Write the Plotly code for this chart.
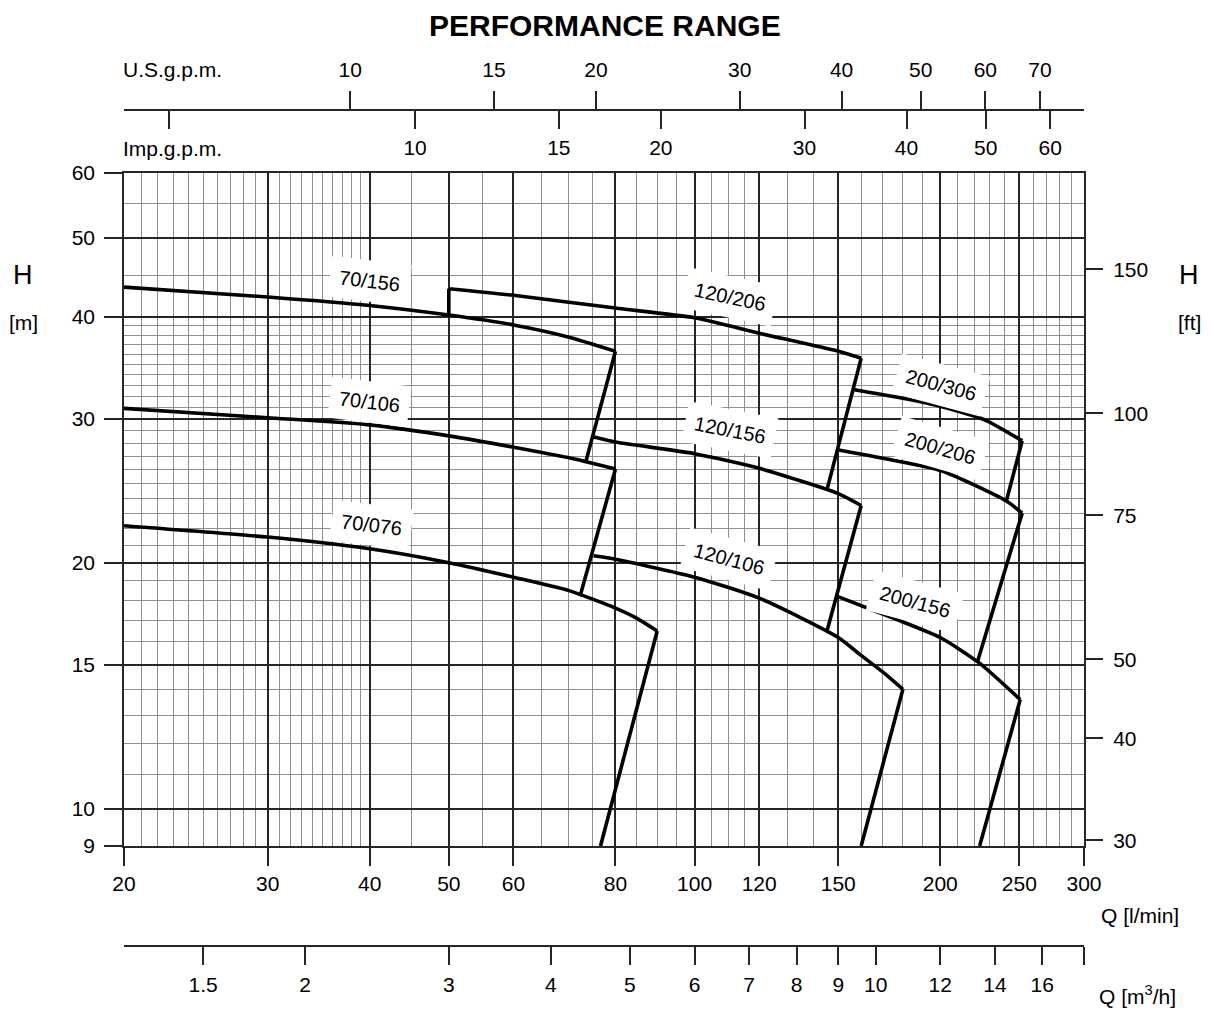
import numpy as np
import plotly.graph_objects as go

# ---------------- data (Q in l/min, H in m) ----------------
q_70_156 = [20, 30, 40, 50, 60, 70, 80, 73.6]
h_70_156 = [43.5, 42.3, 41.3, 40.2, 39.1, 37.8, 36.3, 26.6]

q_70_106 = [20, 30, 40, 50, 60, 70, 80, 72.4]
h_70_106 = [30.9, 30.1, 29.5, 28.6, 27.7, 26.9, 26.05, 18.2]

q_70_076 = [20, 30, 40, 50, 60, 70, 80, 85, 90, 76.7]
h_70_076 = [22.2, 21.5, 20.8, 20.0, 19.2, 18.5, 17.6, 17.1, 16.5, 9]

q_120_206 = [50, 50, 60, 80, 100, 120, 150, 160, 145.5]
h_120_206 = [40.2, 43.3, 42.5, 41.0, 39.9, 38.2, 36.3, 35.6, 24.7]

q_120_156 = [75.3, 80, 100, 120, 150, 160, 145.3]
h_120_156 = [28.5, 28.1, 27.2, 26.1, 24.3, 23.5, 16.5]

q_120_106 = [75.2, 80, 100, 120, 150, 160, 170, 180, 160]
h_120_106 = [20.4, 20.2, 19.2, 18.1, 16.2, 15.4, 14.7, 14.0, 9]

q_200_306 = [156.5, 180, 201, 227, 252, 241]
h_200_306 = [32.6, 31.8, 31.05, 29.9, 28.2, 23.8]

q_200_206 = [149.6, 175, 201, 241, 252, 222]
h_200_206 = [27.5, 26.7, 25.9, 23.8, 23.0, 15.1]

q_200_156 = [149.3, 175.4, 200, 222.8, 250.6, 223.5]
h_200_156 = [18.2, 17.1, 16.2, 15.1, 13.6, 9]

curve_names = ["70/156", "70/106", "70/076", "120/206", "120/156", "120/106",
               "200/306", "200/206", "200/156"]
curve_q = [q_70_156, q_70_106, q_70_076, q_120_206, q_120_156, q_120_106,
           q_200_306, q_200_206, q_200_156]
curve_h = [h_70_156, h_70_106, h_70_076, h_120_206, h_120_156, h_120_106,
           h_200_306, h_200_206, h_200_156]
# index where the smooth H-Q curve starts (120/206 begins with a vertical step)
curve_start = [0, 0, 0, 1, 0, 0, 0, 0, 0]

# label anchor points (Q, H) and slant
label_q = [40.0, 40.0, 40.2, 110.5, 110.5, 110.1, 200.4, 199.6, 186.4]
label_h = [44.2, 31.5, 22.25, 42.3, 29.1, 20.2, 33.0, 27.6, 17.9]
label_angle = [7, 7, 7, 12, 11, 15, 15, 16, 15]

# ticks
q_major = [20, 30, 40, 50, 60, 80, 100, 120, 150, 200, 250, 300]
q_minor = list(range(21, 30)) + list(range(31, 40)) + [45, 55, 65, 70, 75, 85, 90, 95,
           105, 110, 115, 130, 140, 160, 170, 180, 190, 210, 220, 230, 240,
           260, 270, 280, 290]
h_major = [9, 10, 15, 20, 30, 40, 50, 60]
h_minor = [11, 12, 13, 14, 16, 17, 18, 19] + list(range(21, 30)) + list(range(31, 40)) + [45, 55]
ft_ticks = [30, 40, 50, 75, 100, 150]
usgpm_ticks = [10, 15, 20, 30, 40, 50, 60, 70]
impgpm_ticks = [10, 15, 20, 30, 40, 50, 60]
impgpm_extra = [5]
m3h_ticks = [1.5, 2, 3, 4, 5, 6, 7, 8, 9, 10, 12, 14, 16]
m3h_extra = [18]

Q_RANGE = (20, 300)
H_RANGE = (9, 60)
US_GAL = 3.78541
IMP_GAL = 4.54609
FT = 3.28084

# ---------------- layout geometry ----------------
# the page places the figure 8 px from the top-left corner of the window
OFF = 8
W, HGT = 1212 - OFF, 1011 - OFF


def fx(px):
    return (px - OFF) / W


def fy(py):
    return 1 - (py - OFF) / HGT


X0, X1 = 124, 1084
Y0, Y1 = 173, 846
xdom = [fx(X0), fx(X1)]
ydom = [fy(Y1), fy(Y0)]

FONT = "Liberation Sans, Arial, sans-serif"
TFS = 21
LFS = 20
MAJ = "#262626"
MIN = "#8f8f8f"
LW = 3.6

fig = go.Figure()
for name, q, h, s in zip(curve_names, curve_q, curve_h, curve_start):
    # smooth characteristic curve
    fig.add_trace(go.Scatter(x=q[s:-1], y=h[s:-1], mode="lines", name=name,
                             line=dict(color="black", width=LW, shape="spline", smoothing=0.6),
                             hoverinfo="skip", showlegend=False))
    # straight limit line at the end of the curve
    fig.add_trace(go.Scatter(x=q[-2:], y=h[-2:], mode="lines", name=name,
                             line=dict(color="black", width=LW),
                             hoverinfo="skip", showlegend=False))
    if s > 0:
        fig.add_trace(go.Scatter(x=q[:s + 1], y=h[:s + 1], mode="lines", name=name,
                                 line=dict(color="black", width=LW),
                                 hoverinfo="skip", showlegend=False))

# empty traces so the secondary axes exist
fig.add_trace(go.Scatter(x=[], y=[], xaxis="x2", yaxis="y", showlegend=False))
fig.add_trace(go.Scatter(x=[], y=[], xaxis="x3", yaxis="y", showlegend=False))
fig.add_trace(go.Scatter(x=[], y=[], xaxis="x4", yaxis="y", showlegend=False))
fig.add_trace(go.Scatter(x=[], y=[], xaxis="x", yaxis="y2", showlegend=False))

tickfont = dict(family=FONT, size=TFS, color="black")
tk = dict(ticks="outside", ticklen=18, tickwidth=1.6, tickcolor=MAJ, automargin=False,
          zeroline=False, tickfont=tickfont, tickmode="array", type="log")

fig.update_layout(
    width=W, height=HGT, autosize=False,
    margin=dict(l=0, r=0, t=0, b=0, pad=0, autoexpand=False),
    paper_bgcolor="white", plot_bgcolor="white",
    font=dict(family=FONT, color="black"),
    xaxis=dict(domain=xdom, range=[np.log10(Q_RANGE[0]), np.log10(Q_RANGE[1])],
               tickvals=q_major, ticktext=[str(v) for v in q_major],
               showgrid=True, gridcolor=MAJ, gridwidth=1.6,
               minor=dict(tickmode="array", tickvals=q_minor, showgrid=True,
                          gridcolor=MIN, gridwidth=1, ticks=""),
               showline=True, linecolor=MAJ, linewidth=1.6, mirror=True,
               ticklabelstandoff=0, anchor="y", **tk),
    yaxis=dict(domain=ydom, range=[np.log10(H_RANGE[0]), np.log10(H_RANGE[1])],
               tickvals=h_major, ticktext=[str(v) for v in h_major],
               showgrid=True, gridcolor=MAJ, gridwidth=1.6,
               minor=dict(tickmode="array", tickvals=h_minor, showgrid=True,
                          gridcolor=MIN, gridwidth=1, ticks=""),
               showline=True, linecolor=MAJ, linewidth=1.6, mirror=True,
               ticklabelstandoff=5, anchor="x", **tk),
    yaxis2=dict(overlaying="y", side="right", anchor="x", domain=ydom,
                range=[np.log10(H_RANGE[0] * FT), np.log10(H_RANGE[1] * FT)],
                tickvals=ft_ticks, ticktext=[str(v) for v in ft_ticks],
                showgrid=False, showline=False, ticklabelstandoff=6, **tk),
    xaxis2=dict(overlaying="x", anchor="free", position=fy(110),
                side="top", domain=xdom,
                range=[np.log10(Q_RANGE[0] / US_GAL), np.log10(Q_RANGE[1] / US_GAL)],
                tickvals=usgpm_ticks, ticktext=[str(v) for v in usgpm_ticks],
                showgrid=False, showline=True, linecolor=MAJ, linewidth=1.6,
                ticklabelstandoff=6, **tk),
    xaxis3=dict(overlaying="x", anchor="free", position=fy(110),
                side="bottom", domain=xdom,
                range=[np.log10(Q_RANGE[0] / IMP_GAL), np.log10(Q_RANGE[1] / IMP_GAL)],
                tickvals=impgpm_ticks, ticktext=[str(v) for v in impgpm_ticks],
                minor=dict(tickmode="array", tickvals=impgpm_extra, ticks="outside",
                           ticklen=18, tickwidth=1.6, tickcolor=MAJ, showgrid=False),
                showgrid=False, showline=False, ticklabelstandoff=1, **tk),
    xaxis4=dict(overlaying="x", anchor="free", position=fy(946),
                side="bottom", domain=xdom,
                range=[np.log10(Q_RANGE[0] * 0.06), np.log10(Q_RANGE[1] * 0.06)],
                tickvals=m3h_ticks, ticktext=[str(v) for v in m3h_ticks],
                minor=dict(tickmode="array", tickvals=m3h_extra, ticks="outside",
                           ticklen=18, tickwidth=1.6, tickcolor=MAJ, showgrid=False),
                showgrid=False, showline=True, linecolor=MAJ, linewidth=1.6,
                ticklabelstandoff=2, **tk),
)

anns = []
for name, q, h, a in zip(curve_names, label_q, label_h, label_angle):
    anns.append(dict(x=np.log10(q), y=np.log10(h), xref="x", yref="y", text=name,
                     showarrow=False, textangle=a, bgcolor="white", borderpad=9,
                     font=dict(family=FONT, size=LFS, color="black")))


def pann(px, py, text, size=TFS, xanchor="center", yanchor="middle", bold=False):
    t = f"<b>{text}</b>" if bold else text
    return dict(x=fx(px), y=fy(py), xref="paper", yref="paper", text=t,
                showarrow=False, xanchor=xanchor, yanchor=yanchor, borderpad=0,
                font=dict(family=FONT, size=size, color="black"))


anns += [
    pann(605, 8, "PERFORMANCE RANGE", size=30, bold=True, yanchor="top"),
    pann(122, 70, "U.S.g.p.m.", xanchor="left"),
    pann(122, 148, "Imp.g.p.m.", xanchor="left"),
    pann(23, 275, "H", size=27),
    pann(23, 322, "[m]", size=TFS),
    pann(1189, 275, "H", size=27),
    pann(1189, 322, "[ft]", size=TFS),
    pann(1140, 915, "Q [l/min]", size=TFS),
    pann(1137, 995, "Q [m<sup>3</sup>/h]", size=TFS),
]
fig.update_layout(annotations=anns)

fig.write_html("out.html")
